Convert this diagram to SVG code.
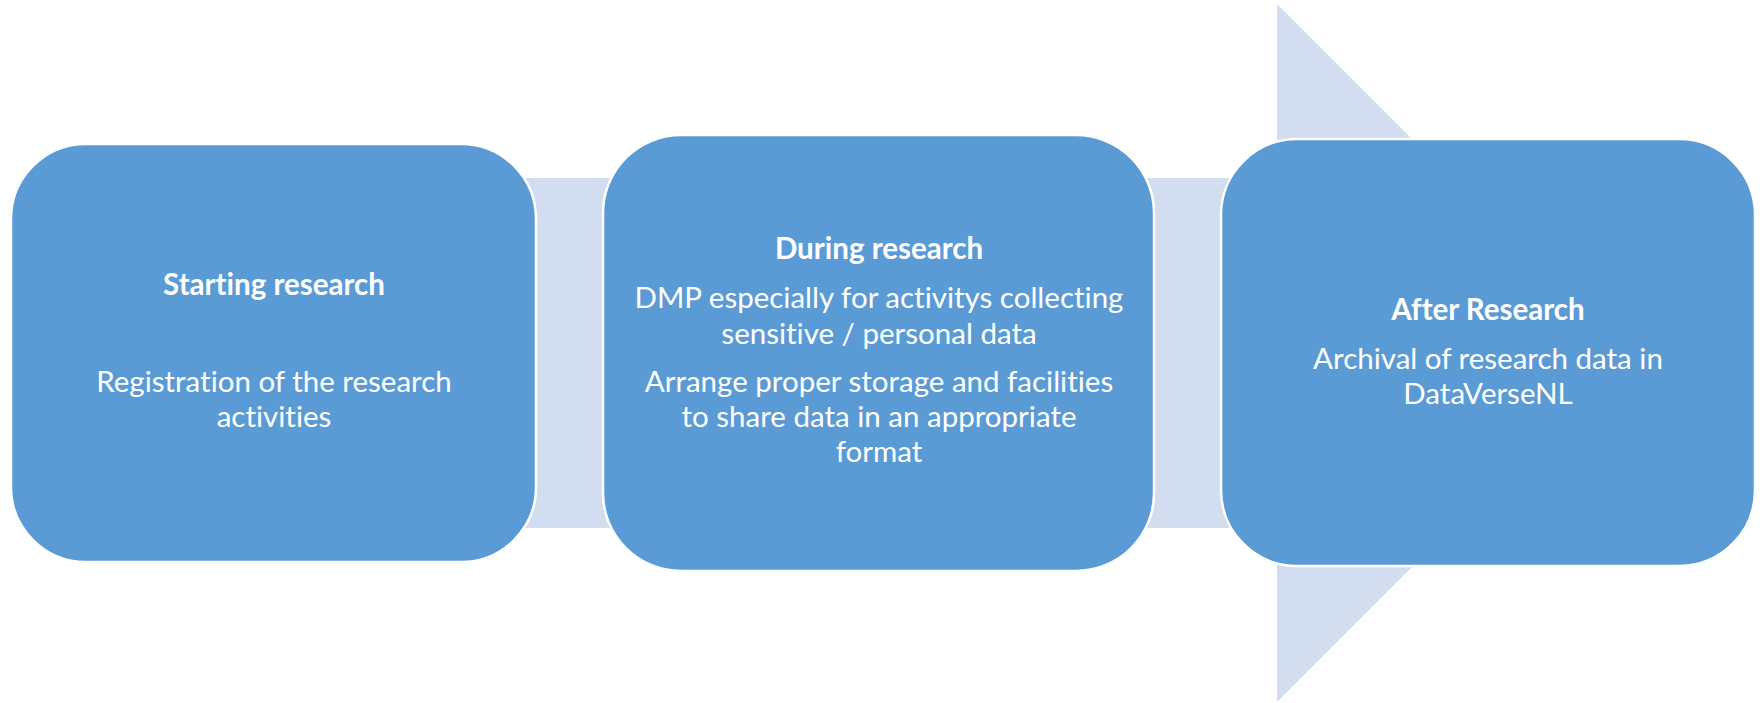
<svg xmlns="http://www.w3.org/2000/svg" width="1762" height="703" viewBox="0 0 1762 703">
<style>
.box{fill:#5B9BD5;stroke:#FFFFFF;stroke-width:2.5}
.t{font-family:Lato,"Open Sans",sans-serif;font-size:29.5px;fill:#FFFFFF;text-anchor:middle;font-variant-ligatures:none;font-feature-settings:"liga" 0,"clig" 0}
.b{font-weight:bold}
</style>
<rect width="1762" height="703" fill="#FFFFFF"/>
<g id="connectors">
<polygon points="80,178 1277,178 1277,4 1626,353 1277,702 1277,528 80,528" fill="#D2DEEF"/>
</g>
<g id="node-start">
<rect class="box" x="11" y="144" width="525" height="418" rx="75" ry="75"/>
<text class="t b" x="274" y="295">Starting research</text>
<text class="t" x="274" y="392">Registration of the research</text>
<text class="t" x="274" y="427">activities</text>
</g>
<g id="node-during">
<rect class="box" x="603" y="135" width="551" height="436" rx="78" ry="78"/>
<text class="t b" x="879" y="259">During research</text>
<text class="t" x="879" y="308">DMP especially for activitys collecting</text>
<text class="t" x="879" y="344">sensitive / personal data</text>
<text class="t" x="879" y="392">Arrange proper storage and facilities</text>
<text class="t" x="879" y="427">to share data in an appropriate</text>
<text class="t" x="879" y="462">format</text>
</g>
<g id="node-after">
<rect class="box" x="1221" y="139" width="534" height="427" rx="76" ry="76"/>
<text class="t b" x="1488" y="320">After Research</text>
<text class="t" x="1488" y="369">Archival of research data in</text>
<text class="t" x="1488" y="404">DataVerseNL</text>
</g>
</svg>
